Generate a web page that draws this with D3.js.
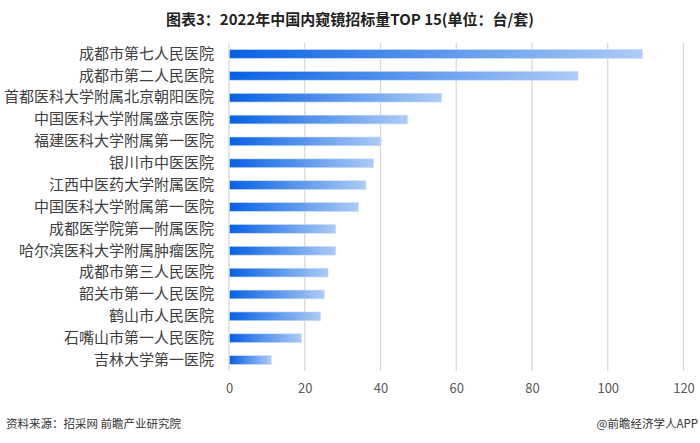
<!DOCTYPE html>
<html><head><meta charset="utf-8">
<script src="https://cdn.jsdelivr.net/npm/d3@7"></script>
<style>
html,body{margin:0;padding:0;background:#fff;}
svg{display:block;}
</style></head>
<body>
<svg id="chart" width="700" height="443"></svg>
<script>
const title = "图表3：2022年中国内窥镜招标量TOP 15(单位：台/套)";
const categories = ["成都市第七人民医院","成都市第二人民医院","首都医科大学附属北京朝阳医院","中国医科大学附属盛京医院","福建医科大学附属第一医院","银川市中医医院","江西中医药大学附属医院","中国医科大学附属第一医院","成都医学院第一附属医院","哈尔滨医科大学附属肿瘤医院","成都市第三人民医院","韶关市第一人民医院","鹤山市人民医院","石嘴山市第一人民医院","吉林大学第一医院"];
const values = [109,92,56,47,40,38,36,34,28,28,26,25,24,19,11];
const xTicks = [0,20,40,60,80,100,120];
const sourceText = "资料来源：招采网 前瞻产业研究院";
const creditText = "@前瞻经济学人APP";

const svg = d3.select("#chart");
const font = "'Noto Sans CJK SC','Noto Sans',sans-serif";

const x = d3.scaleLinear().domain([0,120]).range([229,683.5]);
const y = d3.scaleBand().domain(categories).range([43,371]).paddingInner(0.6).paddingOuter(0.3);

const defs = svg.append("defs");
const grad = defs.append("linearGradient").attr("id","barGrad")
  .attr("x1","0%").attr("x2","100%").attr("y1","0%").attr("y2","0%");
grad.append("stop").attr("offset","0%").attr("stop-color","#0761e4");
grad.append("stop").attr("offset","100%").attr("stop-color","#adcbf5");

// title
svg.append("text").attr("x",350).attr("y",25).attr("text-anchor","middle")
  .attr("font-family",font).attr("font-weight","bold").attr("font-size",15)
  .attr("fill","#222").text(title);

// gridlines
svg.append("g").selectAll("line").data(xTicks).join("line")
  .attr("x1",d=>x(d)).attr("x2",d=>x(d)).attr("y1",43).attr("y2",371)
  .attr("stroke","#d9d9d9").attr("stroke-width",1.3);

// x axis tick labels
const xAxis = d3.axisBottom(x).tickValues(xTicks).tickSize(0).tickPadding(0);
const gx = svg.append("g").attr("transform","translate(0,384)").call(xAxis);
gx.select(".domain").remove();
gx.selectAll("text").attr("font-family",font).attr("font-size",13).attr("fill","#595959");

// y axis labels
const yAxis = d3.axisLeft(y).tickSize(0).tickPadding(0);
const gy = svg.append("g").attr("transform","translate(214,0)").call(yAxis);
gy.select(".domain").remove();
gy.selectAll("text").attr("font-family",font).attr("font-size",15).attr("fill","#404040");

// bars
svg.append("g").selectAll("rect").data(values).join("rect")
  .attr("x",x(0)+0.5)
  .attr("y",(d,i)=>y(categories[i]))
  .attr("width",d=>x(d)-x(0))
  .attr("height",y.bandwidth())
  .attr("fill","url(#barGrad)")
  .attr("stroke","#c6dbf7").attr("stroke-width",0.6);

// footer
svg.append("text").attr("x",6).attr("y",428).attr("font-family",font).attr("font-size",11.5)
  .attr("fill","#333").text(sourceText);
svg.append("text").attr("x",698).attr("y",428).attr("text-anchor","end").attr("font-family",font).attr("font-size",11.5)
  .attr("fill","#333").text(creditText);
</script>
</body></html>
